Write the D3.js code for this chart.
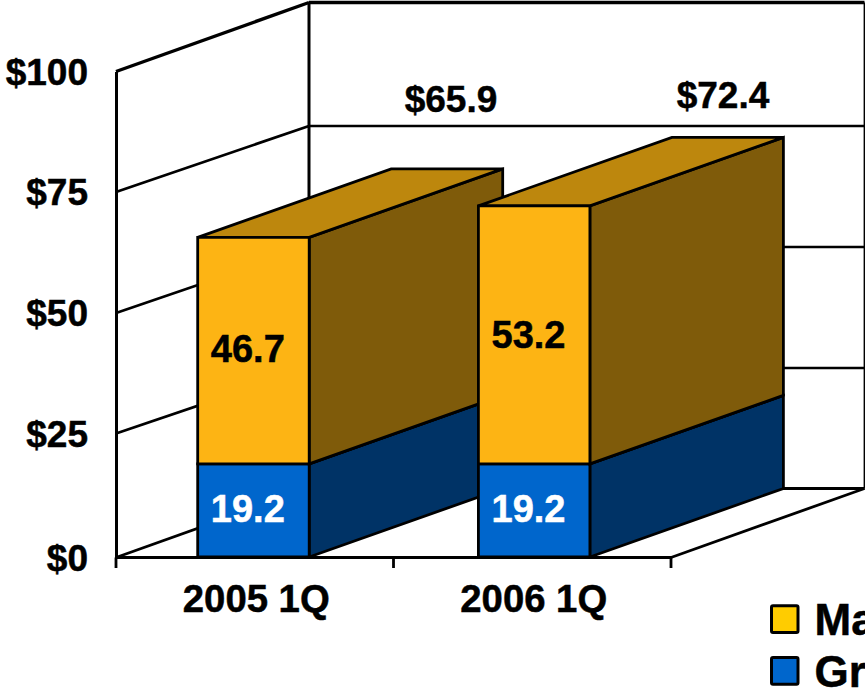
<!DOCTYPE html>
<html>
<head>
<meta charset="utf-8">
<script src="https://cdn.jsdelivr.net/npm/d3@7/dist/d3.min.js"></script>
<style>
html,body{margin:0;padding:0;background:#fff;overflow:hidden}
svg{display:block}
text{font-family:"Liberation Sans",Arial,sans-serif;font-weight:700;fill:#000;stroke:#000;stroke-width:.5}
text.on-dark{fill:#fff;stroke:#fff}
</style>
</head>
<body>
<svg id="chart" width="865" height="693"></svg>
<script>
// Quarterly revenue, stacked by segment
const categories = ["2005 1Q", "2006 1Q"];
const growthValues = [19.2, 19.2];
const matureValues = [46.7, 53.2];
const totalLabels = ["$65.9", "$72.4"];
const axisTicks = [0, 25, 50, 75, 100];
const legendLabels = ["Mature", "Growth"];

const depth = {dx: 193.5, dy: -68.5};
const svg = d3.select("#chart");

// Columns use a straight value scale; the ruled wall lines sit on their own slightly uneven spacing
const y = d3.scaleLinear().domain([0, 100]).range([557, 72]);
const gridFront = d3.scaleLinear().domain(axisTicks).range([557.5, 433.5, 313, 192, 71.5]);
const gridBack = d3.scaleLinear().domain(axisTicks).range([488.5, 368, 247, 126, 2.5]);

const xBand = d3.scaleBand().domain(categories).range([116, 671]);
const barLeft = d3.scalePoint().domain(categories).range([197.7, 478.4]);
const labelX = d3.scalePoint().domain(categories).range([247.8, 528.5]);
const totalX = d3.scalePoint().domain(categories).range([451, 723]);
const totalY = d3.scalePoint().domain(categories).range([112, 108]);
const barWidth = 111.5;

const series = [
  {key: "growth", values: growthValues, front: "#0066CC", side: "#003366", top: "#004C99"},
  {key: "mature", values: matureValues, front: "#FDB414", side: "#7F5B0A", top: "#BD870D"}
];

const line = (g, x1, y1, x2, y2, w = 2.8) => g.append("line")
  .attr("x1", x1).attr("y1", y1).attr("x2", x2).attr("y2", y2)
  .attr("stroke", "#000").attr("stroke-width", w);

// Walls and floor of the box
const walls = svg.append("g");
const bx = 116 + 193, rightEdge = 864.5;
axisTicks.forEach(t => {
  const w = t === 100 ? 3.4 : 2.8;
  line(walls, 116, gridFront(t), bx, gridBack(t), w);
  line(walls, bx, gridBack(t), rightEdge, gridBack(t), t === 0 || t === 100 ? w : 2.4);
});
line(walls, bx, gridBack(100), bx, gridBack(0), 3);
line(walls, rightEdge, gridBack(100), rightEdge, gridBack(0), 1.8);
line(walls, 671, gridFront(0), rightEdge, gridBack(0));

// Value axis: the line and the dollar labels
const yAxis = d3.axisLeft(gridFront).tickValues(axisTicks).tickSize(0).tickPadding(28)
  .tickFormat(d => "$" + d);
const yG = svg.append("g").attr("transform", "translate(116,0)").call(yAxis);
yG.select(".domain").attr("stroke", "#000").attr("stroke-width", 3);
yG.selectAll("text").style("font-size", "37px").attr("dy", "0.345em");

// Category axis: baseline, ticks at the band edges and labels
const xG = svg.append("g");
line(xG, 115, gridFront(0), 672, gridFront(0), 3);
[...categories.map(c => xBand(c)), xBand.range()[1]].forEach(px => line(xG, px, gridFront(0), px, 568));
xG.selectAll("text").data(categories).join("text")
  .attr("x", c => xBand(c) + xBand.bandwidth() / 2 + 1.5)
  .attr("y", 612)
  .attr("text-anchor", "middle")
  .style("font-size", "38.3px")
  .text(c => c);

// Stacked 3D columns, rear segments first within each column
const bars = svg.append("g")
  .attr("stroke", "#000").attr("stroke-width", 2.8).attr("stroke-linejoin", "miter");
categories.forEach((c, i) => {
  const x0 = barLeft(c), x1 = x0 + barWidth;
  let base = 0;
  series.forEach(s => {
    const top = base + s.values[i];
    const yb = y(base), yt = y(top);
    const poly = (pts, fill) => bars.append("polygon").attr("points", pts.join(" ")).attr("fill", fill);
    poly([[x1, yb], [x1 + depth.dx, yb + depth.dy], [x1 + depth.dx, yt + depth.dy], [x1, yt]], s.side);
    poly([[x0, yt], [x1, yt], [x1 + depth.dx, yt + depth.dy], [x0 + depth.dx, yt + depth.dy]], s.top);
    poly([[x0, yb], [x1, yb], [x1, yt], [x0, yt]], s.front);
    base = top;
  });
});

// Segment values on the front faces and totals above the columns
const labels = svg.append("g").attr("text-anchor", "middle");
const matureNudge = [11.4, 13.4];
categories.forEach((c, i) => {
  labels.append("text").attr("class", "on-dark").style("font-size", "38px")
    .attr("x", labelX(c)).attr("y", y(growthValues[i] / 2) + 11.6)
    .text(growthValues[i].toFixed(1));
  labels.append("text").style("font-size", "38px")
    .attr("x", labelX(c)).attr("y", y(growthValues[i] + matureValues[i] / 2) + matureNudge[i])
    .text(matureValues[i].toFixed(1));
});
labels.selectAll("text.total").data(categories).join("text").attr("class", "total")
  .style("font-size", "37px")
  .attr("x", c => totalX(c)).attr("y", c => totalY(c))
  .text((c, i) => totalLabels[i]);

// Legend runs off the right edge of the page
const legend = svg.append("g");
const legendY = d3.scalePoint().domain(legendLabels).range([605.8, 657.5]);
const legendFill = d3.scaleOrdinal().domain(legendLabels).range(["#FFCC00", "#0066CC"]);
legendLabels.forEach(l => {
  legend.append("rect").attr("x", 771.5).attr("y", legendY(l)).attr("width", 26.5).attr("height", 26.7)
    .attr("rx", 1.5).attr("fill", legendFill(l)).attr("stroke", "#000").attr("stroke-width", 3);
  legend.append("text").attr("x", 814.5).attr("y", legendY(l) + 29.5).style("font-size", "44px").text(l);
});
</script>
</body>
</html>
